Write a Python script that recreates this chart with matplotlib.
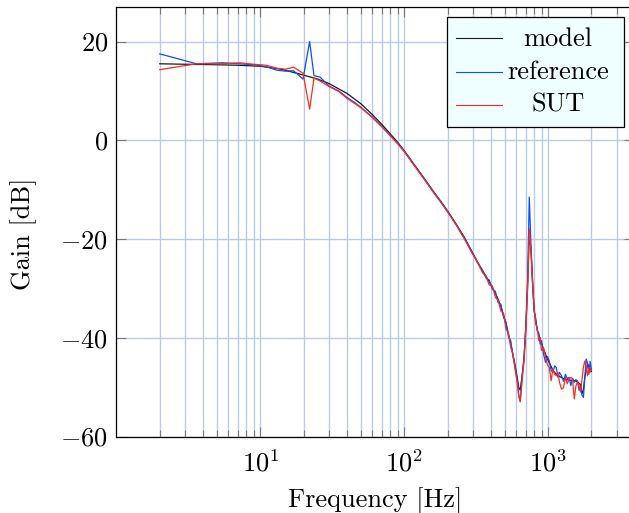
import matplotlib
matplotlib.use("Agg")
import matplotlib.pyplot as plt
from matplotlib.patches import Rectangle
from matplotlib.lines import Line2D
from matplotlib.ticker import FixedLocator, LogLocator, NullFormatter

plt.rcParams["font.family"] = "cmr10"
plt.rcParams["mathtext.fontset"] = "cm"
plt.rcParams["axes.formatter.use_mathtext"] = True

# ── data ──────────────────────────────────────────────────────────────────────
model_f = [2, 3, 4, 5, 7, 10, 14, 20, 25, 30, 40, 50, 60, 70, 80, 90, 100,
           120, 140, 160, 180, 200, 230, 260, 290, 320, 350, 370, 390, 410,
           430, 450, 470, 490, 510, 530, 550, 570, 590, 610, 625, 640, 660,
           680, 700, 720, 740, 760, 780, 800, 820, 840, 860, 880, 900, 930,
           960, 990, 1020, 1050, 1080, 1110, 1140, 1170, 1200, 1280, 1400,
           1520, 1600, 1680, 1720, 1760, 1800, 1880, 1960, 2000]
model_db = [15.5, 15.4, 15.35, 15.3, 15.2, 15.0, 14.4, 13.2, 12.4, 11.5, 9.5,
            7.4, 5.2, 3.2, 1.3, -0.4, -2.1, -5.3, -8.0, -10.4, -12.4, -14.3,
            -17.0, -19.5, -22.1, -24.4, -26.4, -27.5, -28.7, -29.8, -31.0,
            -32.2, -33.7, -35.4, -37.2, -39.2, -41.2, -43.4, -45.6, -48.0,
            -50.0, -50.6, -47.6, -44.3, -38.0, -29.8, -19.0, -22.0, -28.8,
            -34.5, -36.5, -38.3, -39.3, -40.2, -41.1, -42.3, -43.3, -44.3,
            -45.1, -45.8, -46.6, -47.0, -47.4, -47.6, -47.8, -48.3, -48.6,
            -48.7, -48.9, -49.5, -51.3, -50.5, -48.0, -45.3, -46.3, -46.8]

meas_f = [2, 3.6, 5.4, 7.2, 9, 11, 13, 15, 17, 19.8, 22, 23.6, 26, 30, 35, 40,
          45, 50, 60, 70, 80, 90, 100, 120, 140, 160, 180, 200, 230, 260, 290,
          320, 350, 370, 390, 410, 430, 450, 470, 490, 510, 530, 550, 570, 590,
          610, 625, 640, 660, 680, 700, 720, 740, 760, 780, 800, 820, 840, 860,
          880, 900, 930, 960, 990, 1020, 1050, 1080, 1110, 1140, 1170, 1200,
          1240, 1280, 1320, 1360, 1400, 1440, 1480, 1520, 1560, 1600, 1640,
          1680, 1720, 1760, 1800, 1840, 1880, 1920, 1960, 2000]
reference_db = [17.5, 15.5, 15.7, 15.5, 15.3, 14.9, 14.2, 14.0, 14.1, 12.4,
                20.0, 13.1, 12.8, 11.0, 10.0, 8.7, 7.7, 6.7, 4.7, 2.8, 1.0,
                -0.6, -2.2, -5.4, -8.1, -10.5, -12.5, -14.4, -17.1, -19.7,
                -22.1, -24.6, -26.3, -27.9, -28.3, -30.2, -30.6, -32.9, -33.2,
                -35.9, -36.8, -39.8, -40.6, -43.9, -45.8, -48.6, -51.5, -52.8,
                -48.0, -44.0, -37.5, -28.5, -11.5, -21.0, -28.5, -34.5, -36.0,
                -38.6, -39.0, -41.3, -40.6, -43.3, -45.0, -43.8, -44.7, -46.6,
                -47.0, -45.7, -46.0, -48.0, -47.0, -47.7, -48.8, -47.4, -48.3,
                -48.0, -49.7, -48.2, -49.0, -48.5, -48.7, -50.6, -50.0, -51.6,
                -52.1, -48.0, -44.3, -45.2, -47.4, -44.8, -46.4]
sut_db = [14.3, 15.5, 15.5, 15.7, 15.4, 15.2, 14.6, 14.4, 14.8, 13.6, 6.3,
          12.6, 12.0, 10.9, 9.9, 8.5, 7.5, 6.6, 4.6, 2.7, 0.9, -0.7, -2.3,
          -5.5, -8.2, -10.6, -12.6, -14.5, -17.2, -19.8, -22.4, -24.5, -26.8,
          -27.6, -29.3, -29.5, -31.8, -32.4, -34.6, -35.0, -38.3, -39.0,
          -42.0, -43.2, -46.5, -48.9, -51.8, -53.0, -48.6, -44.8, -38.5,
          -30.0, -17.9, -22.5, -29.0, -34.0, -37.2, -38.0, -40.5, -40.0,
          -42.6, -42.0, -43.9, -45.5, -46.0, -48.7, -46.3, -47.4, -47.7,
          -47.0, -49.0, -50.4, -50.1, -48.0, -49.3, -48.4, -48.0, -48.4,
          -52.4, -49.8, -48.9, -49.7, -51.0, -48.5, -46.0, -44.7, -46.0,
          -47.7, -46.0, -47.0, -46.4]

series_labels = ["model", "reference", "SUT"]
series_colors = ["#1a1a1a", "#0b4dff", "#ff2a1c"]

# ── figure ────────────────────────────────────────────────────────────────────
fig = plt.figure(figsize=(6.29, 5.13), dpi=100)
ax = fig.add_axes([0.1852, 0.1481, 0.8234, 0.8373])

ax.plot(model_f, model_db, color=series_colors[0], lw=0.9, zorder=3)
ax.plot(meas_f, reference_db, color=series_colors[1], lw=0.9, zorder=3)
ax.plot(meas_f, sut_db, color=series_colors[2], lw=0.9, zorder=3)

ax.set_xscale("log")
ax.set_xlim(1.0, 10 ** 3.6)
ax.set_ylim(-60.1, 26.9)

ax.xaxis.set_major_locator(FixedLocator([10, 100, 1000]))
ax.xaxis.set_minor_locator(LogLocator(base=10, subs=range(2, 10), numticks=20))
ax.xaxis.set_minor_formatter(NullFormatter())
ax.set_yticks([-60, -40, -20, 0, 20])

grid_color = "#bccbe4"
ax.grid(True, which="major", color=grid_color, lw=1.0)
ax.grid(True, which="minor", axis="x", color=grid_color, lw=1.0)
ax.set_axisbelow(True)

ax.tick_params(which="both", direction="in", top=True, right=True,
               color="#7a7a7a", width=0.8, labelsize=19)
ax.tick_params(which="major", length=7.5)
ax.tick_params(which="minor", length=5)
ax.tick_params(axis="x", which="major", pad=9)
ax.tick_params(axis="y", which="major", pad=6)
for sp in ax.spines.values():
    sp.set_linewidth(0.9)

ax.set_xlabel("Frequency [Hz]", fontsize=19)
ax.set_ylabel("Gain [dB]", fontsize=19)
ax.xaxis.set_label_coords(0.5, -0.116)
ax.yaxis.set_label_coords(-0.154, 0.473)

# legend box, centred entries like pgfplots
ax.add_patch(Rectangle((0.638, 0.722), 0.342, 0.256, transform=ax.transAxes,
                       facecolor="#effefe", edgecolor="black", lw=0.9,
                       zorder=5))
rows_y = [0.929, 0.850, 0.773]
base_y = [0.911, 0.834, 0.757]
for lab, col, ly, by in zip(series_labels, series_colors, rows_y, base_y):
    ax.add_line(Line2D([0.6555, 0.744], [ly, ly], transform=ax.transAxes,
                       color=col, lw=0.8, zorder=6))
    ax.text(0.8525, by, lab, transform=ax.transAxes, ha="center",
            va="baseline", fontsize=19, zorder=6)

fig.savefig("out.png", dpi=100)
